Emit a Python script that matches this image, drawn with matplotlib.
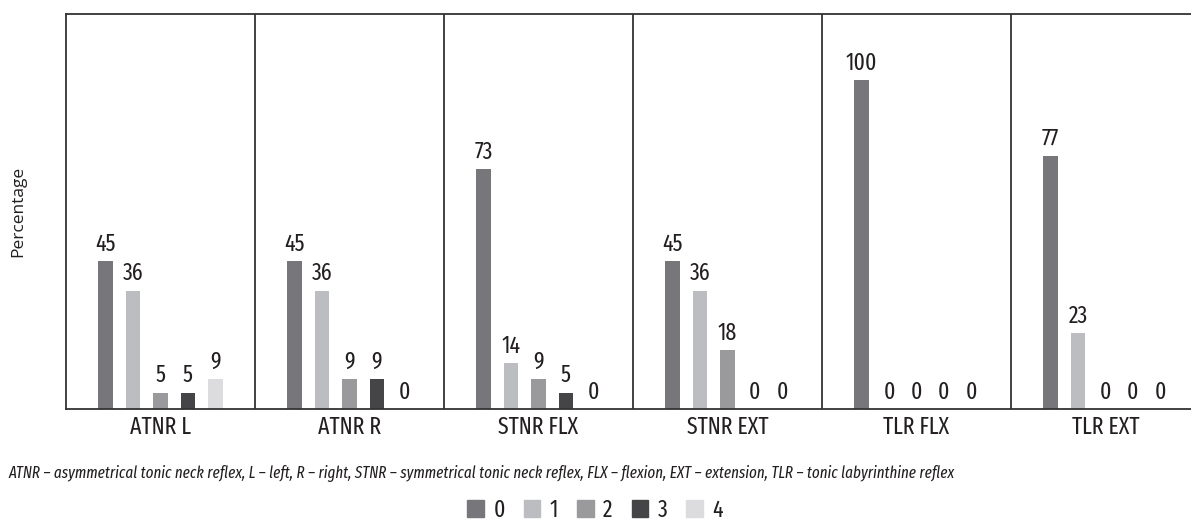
import numpy as np
import matplotlib.pyplot as plt
from matplotlib.patches import Patch

COND = ['Fira Sans Extra Condensed', 'Liberation Sans Narrow', 'DejaVu Sans']
REG = ['Open Sans', 'DejaVu Sans']
plt.rcParams['font.family'] = COND

#DATA
groups = ["ATNR L", "ATNR R", "STNR FLX", "STNR EXT", "TLR FLX", "TLR EXT"]
series = ["0", "1", "2", "3", "4"]
s0 = [45, 45, 73, 45, 100, 77]
s1 = [36, 36, 14, 36, 0, 23]
s2 = [5, 9, 9, 18, 0, 0]
s3 = [5, 9, 5, 0, 0, 0]
s4 = [9, 0, 0, 0, 0, 0]
values = [s0, s1, s2, s3, s4]
colors = ["#77777b", "#bcbdc1", "#9a9a9d", "#454547", "#dcdcde"]
caption = ("ATNR \u2013 asymmetrical tonic neck reflex, L \u2013 left, R \u2013 right, "
           "STNR \u2013 symmetrical tonic neck reflex, FLX \u2013 flexion, "
           "EXT \u2013 extension, TLR \u2013 tonic labyrinthine reflex")

#FIGURE
fig = plt.figure(figsize=(11.91, 5.2), dpi=100)
ax = fig.add_axes([66 / 1191, 111 / 520, 1134 / 1191, 395 / 520])

x = np.arange(len(groups))
step = 0.1455
width = 0.077
for k, vals in enumerate(values):
    pos = x + (k - 2) * step
    ax.bar(pos, vals, width=width, color=colors[k], zorder=2)
    for p, v in zip(pos, vals):
        ax.text(p, v + 1.6, str(v), ha="center", va="bottom",
                fontsize=17, color="#231f20")

#DIVIDERS
for i in range(1, len(groups)):
    ax.axvline(i - 0.5, color="#333333", lw=1.3, zorder=1)

ax.set_xlim(-0.5, len(groups) - 0.5)
ax.set_ylim(0, 120)
ax.set_yticks([])
ax.set_xticks(x)
ax.set_xticklabels(groups, fontsize=17, color="#231f20")
ax.tick_params(axis="x", length=0, pad=5)
for side in ["left", "top", "bottom"]:
    ax.spines[side].set_color("#333333")
    ax.spines[side].set_linewidth(1.3)
ax.spines["right"].set_visible(False)

fig.text(18 / 1191, 1 - 211 / 520, "Percentage", rotation=90, family=REG,
         ha="center", va="center", fontsize=12.5, color="#231f20")
fig.text(8 / 1191, 1 - 473 / 520, caption, ha="left", va="center",
         fontsize=11.8, style="italic", color="#231f20")

handles = [Patch(color=c) for c in colors]
fig.legend(handles, series, loc="center", bbox_to_anchor=(595 / 1191, 1 - 510 / 520),
           ncol=5, frameon=False, fontsize=17, handlelength=0.7, handleheight=0.7,
           handletextpad=0.4, columnspacing=0.8, labelcolor="#231f20")

fig.savefig("out.png", dpi=100)
